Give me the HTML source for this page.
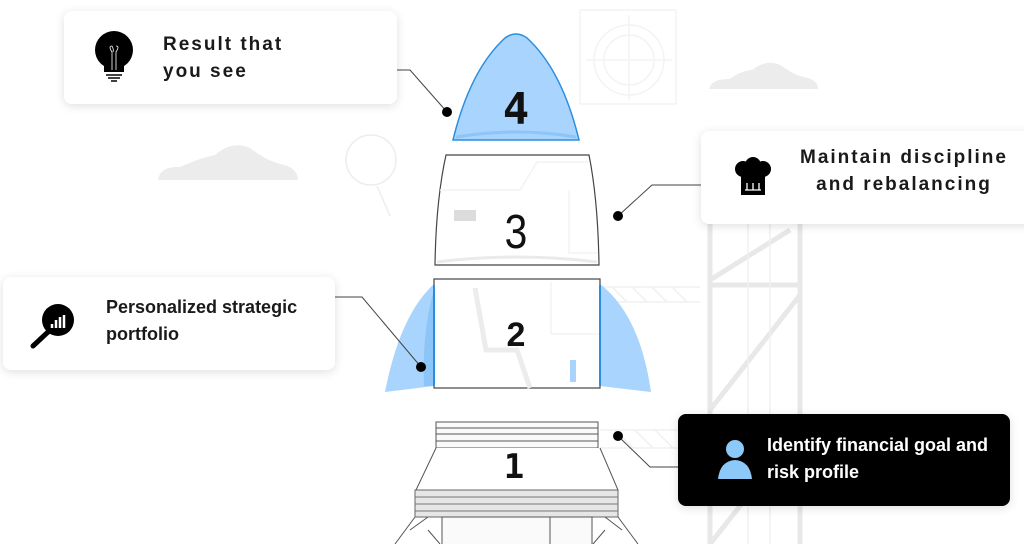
<!DOCTYPE html>
<html><head><meta charset="utf-8">
<style>
html,body{margin:0;padding:0;background:#fff;}
body{width:1024px;height:544px;overflow:hidden;position:relative;font-family:"Liberation Sans",sans-serif;}
svg{position:absolute;left:0;top:0;}
.card{position:absolute;background:#fff;border-radius:8px;box-shadow:0 2px 10px rgba(0,0,0,0.13);}
.t{position:absolute;font-size:19px;color:#1a1a1a;letter-spacing:2px;line-height:27px;font-weight:bold;}
.o{position:absolute;font-size:18px;font-weight:bold;color:#1a1a1a;line-height:27px;}
</style></head><body>
<svg width="1024" height="544" viewBox="0 0 1024 544">
  <path d="M158 180 Q160 166 180 167 Q200 158 215 155 Q232 140 250 148 Q268 162 285 165 Q298 170 298 180 Z" fill="#ececec"/>
  <path d="M709 89 Q711 79 730 79 Q740 71 752 70 Q768 58 782 66 Q795 76 808 78 Q818 81 818 89 Z" fill="#ececec"/>
  <g stroke="#f3f3f3" fill="none" stroke-width="1.5">
    <rect x="580" y="10" width="96" height="94"/>
    <circle cx="629" cy="60" r="35"/><circle cx="629" cy="60" r="25"/>
    <line x1="586" y1="60" x2="672" y2="60"/><line x1="629" y1="15" x2="629" y2="100"/>
  </g>
  <g stroke="#ededed" fill="none" stroke-width="1.5">
    <circle cx="371" cy="160" r="25"/><line x1="377" y1="186" x2="390" y2="216"/>
  </g>
  <g stroke="#e8e8e8" fill="none" stroke-width="5">
    <line x1="710" y1="224" x2="710" y2="544"/><line x1="800" y1="224" x2="800" y2="544"/>
    <line x1="710" y1="285" x2="800" y2="285"/><line x1="710" y1="420" x2="800" y2="420"/>
    <line x1="710" y1="280" x2="790" y2="230"/><line x1="710" y1="410" x2="800" y2="295"/>
    <line x1="710" y1="544" x2="800" y2="430"/>
  </g>
  <g stroke="#f0f0f0" fill="none" stroke-width="1.5">
    <line x1="748" y1="224" x2="748" y2="544"/><line x1="770" y1="224" x2="770" y2="544"/>
    <path d="M600 287 H700 M600 302 H700 M612 287 l15 15 M632 287 l15 15 M652 287 l15 15 M672 287 l15 15"/>
    <path d="M600 430 H680 M600 448 H680 M615 430 l18 18 M635 430 l18 18 M655 430 l18 18"/>
  </g>
  <path d="M453 140 Q470 70 505 38 Q516 30 527 38 Q562 70 579 140 Z" fill="#a8d4fd" stroke="#2a8ee0" stroke-width="1.5"/>
  <path d="M456 137 Q516 127 576 137" stroke="#8cc5f8" stroke-width="3" fill="none"/>
  <path d="M446 155 H589 Q598 200 599 265 H435 Q436 200 446 155 Z" fill="#fff" stroke="#444" stroke-width="1.2"/>
  <path d="M440 190 H520 L537 162 H588 M569 190 V253 H598" stroke="#f3f3f3" fill="none" stroke-width="1.5"/>
  <rect x="454" y="210" width="22" height="11" fill="#dcdcdc"/>
  <path d="M437 262 Q517 252 597 262" stroke="#eaeaea" stroke-width="3" fill="none"/>
  <path d="M434 284 Q400 315 385 392 L434 386 Z" fill="#a8d4fd"/>
  <path d="M434 290 Q422 330 424 386 L434 386 Z" fill="#8cc5f8"/>
  <path d="M600 284 Q640 315 651 392 L600 386 Z" fill="#a8d4fd"/>
  <rect x="434" y="279" width="166" height="109" fill="#fff" stroke="#444" stroke-width="1.2"/>
  <path d="M475 288 L486 350 H517 L530 388" stroke="#ececec" stroke-width="5" fill="none"/>
  <path d="M551 282 V334 H600" stroke="#f3f3f3" stroke-width="1.5" fill="none"/>
  <rect x="570" y="360" width="6" height="22" fill="#a8d4fd"/>
  <line x1="434" y1="285" x2="434" y2="385" stroke="#2a8ee0" stroke-width="2"/>
  <line x1="600" y1="285" x2="600" y2="385" stroke="#2a8ee0" stroke-width="2"/>
  <rect x="436" y="422" width="162" height="26" fill="#fafafa" stroke="#555" stroke-width="1"/>
  <path d="M436 428 H598 M436 434 H598 M436 441 H598" stroke="#555" stroke-width="1"/>
  <path d="M436 448 L416 490 H618 L600 448" fill="#fff" stroke="#555" stroke-width="1"/>
  <rect x="415" y="490" width="203" height="27" fill="#e6e6e6" stroke="#666" stroke-width="1"/>
  <path d="M415 497 H618 M415 504 H618 M415 511 H618" stroke="#777" stroke-width="1"/>
  <rect x="442" y="517" width="150" height="30" fill="#fafafa" stroke="#555" stroke-width="1"/>
  <line x1="550" y1="517" x2="550" y2="544" stroke="#555"/>
  <path d="M415 517 L395 544 M428 530 L440 544 M410 530 L428 517 M618 517 L638 544 M605 530 L593 544 M622 530 L605 517" stroke="#555" fill="none"/>
  <text x="516" y="124" text-anchor="middle" font-family="DejaVu Sans Mono,monospace" font-weight="bold" font-size="44" fill="#111">4</text>
  <text x="516" y="248" text-anchor="middle" font-family="Liberation Sans Narrow,Liberation Sans,sans-serif" font-size="48" fill="#111" transform="translate(516 0) scale(0.85 1) translate(-516 0)">3</text>
  <text x="516" y="346" text-anchor="middle" font-family="Liberation Sans,sans-serif" font-weight="bold" font-size="34" fill="#111">2</text>
  <text x="514" y="478" text-anchor="middle" font-family="DejaVu Sans Mono,monospace" font-weight="bold" font-size="34" fill="#111">1</text>
  <g stroke="#444" stroke-width="1" fill="none">
    <path d="M397 70 H410 L447 112"/>
    <path d="M701 185 H652 L618 216"/>
    <path d="M335 297 H362 L421 367"/>
    <path d="M678 467 H650 L618 436"/>
  </g>
  <g fill="#000"><circle cx="447" cy="112" r="5"/><circle cx="618" cy="216" r="5"/><circle cx="421" cy="367" r="5"/><circle cx="618" cy="436" r="5"/></g>
</svg>

<div class="card" style="left:64px;top:11px;width:333px;height:93px;"></div>
<svg width="40" height="60" style="left:94px;top:30px;" viewBox="0 0 40 60">
  <circle cx="20" cy="20" r="19" fill="#000"/><path d="M10 32 H30 V42 H10 Z" fill="#000"/>
  <path d="M18 40 V22 Q14 16 18 16 Q20 20 19 22 M22 40 V22 Q26 16 22 16" stroke="#fff" stroke-width="0.8" fill="none"/>
  <path d="M12 45 H28 M14 48 H26 M17 51 H23" stroke="#000" stroke-width="1.5"/>
</svg>
<div class="t" style="left:163px;top:31px;">Result that<br>you see</div>

<div class="card" style="left:701px;top:131px;width:340px;height:93px;"></div>
<svg width="40" height="40" style="left:733px;top:157px;" viewBox="0 0 40 40">
  <circle cx="10" cy="12" r="8" fill="#000"/><circle cx="20" cy="8" r="8" fill="#000"/><circle cx="30" cy="12" r="8" fill="#000"/>
  <rect x="8" y="12" width="24" height="26" fill="#000"/>
  <path d="M14 26 V33 M20 26 V33 M26 26 V33 M12 33 H28" stroke="#fff" stroke-width="1.3"/>
</svg>
<div class="t" style="left:796px;top:144px;width:216px;text-align:center;white-space:nowrap;">Maintain discipline<br>and rebalancing</div>

<div class="card" style="left:3px;top:277px;width:332px;height:93px;"></div>
<svg width="48" height="48" style="left:28px;top:302px;" viewBox="0 0 48 48">
  <circle cx="30" cy="18" r="16" fill="#000"/><line x1="20" y1="30" x2="5" y2="44" stroke="#000" stroke-width="5" stroke-linecap="round"/>
  <path d="M24 26 V22 M28 26 V18 M32 26 V15 M36 26 V13" stroke="#fff" stroke-width="2.5"/>
</svg>
<div class="o" style="left:106px;top:294px;">Personalized strategic<br>portfolio</div>

<div class="card" style="left:678px;top:414px;width:332px;height:92px;background:#000;border-radius:8px;"></div>
<svg width="40" height="40" style="left:716px;top:439px;" viewBox="0 0 40 40">
  <circle cx="19" cy="10" r="9" fill="#8cc8f8"/><path d="M2 40 Q4 22 19 21 Q34 22 36 40 Z" fill="#8cc8f8"/>
</svg>
<div class="o" style="left:767px;top:432px;color:#fff;">Identify financial goal and<br>risk profile</div>
</body></html>
